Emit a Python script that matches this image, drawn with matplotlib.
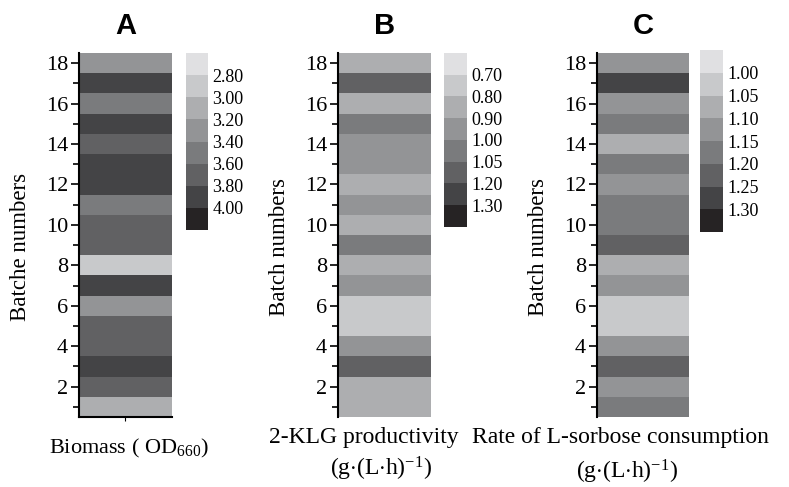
import numpy as np
import matplotlib
matplotlib.use('Agg')
import matplotlib.pyplot as plt
from matplotlib.colors import ListedColormap, BoundaryNorm
from matplotlib.ticker import MultipleLocator

plt.rcParams['font.family'] = ['Liberation Serif', 'DejaVu Serif']
plt.rcParams['mathtext.fontset'] = 'custom'
plt.rcParams['mathtext.rm'] = 'Liberation Serif'
plt.rcParams['mathtext.it'] = 'Liberation Serif:italic'

# batch 1 .. 18
batches = np.arange(1, 19)

# A: biomass (OD660)
biomass = [3.1, 3.7, 3.9, 3.7, 3.7, 3.3, 3.9, 2.9, 3.7,
           3.7, 3.5, 3.9, 3.9, 3.7, 3.9, 3.5, 3.9, 3.3]
bounds_a = [2.6, 2.8, 3.0, 3.2, 3.4, 3.6, 3.8, 4.0, 4.2]

# B: 2-KLG productivity
klg = [0.85, 0.85, 1.1, 0.95, 0.75, 0.75, 0.95, 0.85, 1.02,
       0.85, 0.95, 0.85, 0.95, 0.95, 1.02, 0.85, 1.1, 0.85]
bounds_b = [0.6, 0.7, 0.8, 0.9, 1.0, 1.05, 1.2, 1.3, 1.4]

# C: L-sorbose consumption rate
sorbose = [1.175, 1.125, 1.225, 1.125, 1.025, 1.025, 1.125, 1.075, 1.225,
           1.175, 1.175, 1.125, 1.175, 1.075, 1.175, 1.125, 1.275, 1.125]
bounds_c = [0.95, 1.0, 1.05, 1.1, 1.15, 1.2, 1.25, 1.3, 1.35]

grays = ['#e0e0e2', '#c8c9cb', '#adaeb0', '#939496',
         '#7a7b7d', '#616163', '#444446', '#262324']
cmap = ListedColormap(grays)

fig = plt.figure(figsize=(7.89, 4.87), dpi=100)

panels = [
    ('A', biomass, bounds_a, 'Batche numbers',
     [0.1001, 0.1437, 0.1179, 0.7474], [0.2357, 0.5277, 0.0279, 0.3634]),
    ('B', klg, bounds_b, 'Batch numbers',
     [0.4284, 0.1437, 0.1179, 0.7474], [0.5627, 0.5339, 0.0292, 0.3573]),
    ('C', sorbose, bounds_c, 'Batch numbers',
     [0.7567, 0.1437, 0.1166, 0.7474], [0.8872, 0.5236, 0.0292, 0.3737]),
]

for i, (letter, vals, bounds, ylab, rect, crect) in enumerate(panels):
    ax = fig.add_axes(rect)
    norm = BoundaryNorm(bounds, cmap.N)
    z = np.array(vals).reshape(-1, 1)
    ybins = np.arange(0.5, 19.5, 1)
    mesh = ax.pcolormesh([0, 1], ybins, z, cmap=cmap, norm=norm)
    ax.set_xlim(0, 1)
    ax.set_ylim(0.5, 18.5)
    ax.yaxis.set_major_locator(MultipleLocator(2))
    ax.yaxis.set_minor_locator(MultipleLocator(1))
    ax.set_yticks(range(2, 19, 2))
    ax.tick_params(axis='y', which='major', length=6, width=1.2, labelsize=16, pad=2)
    ax.tick_params(axis='y', which='minor', length=4, width=1.2)
    ax.spines['top'].set_visible(False)
    ax.spines['right'].set_visible(False)
    ax.spines['left'].set_linewidth(1.5)
    if i == 0:
        ax.spines['bottom'].set_linewidth(1.5)
        ax.set_xticks([0.5])
        ax.set_xticklabels([])
        ax.tick_params(axis='x', length=3, width=0.8)
    else:
        ax.spines['bottom'].set_visible(False)
        ax.set_xticks([])
    ax.set_ylabel(ylab, fontsize=16.5)
    ax.yaxis.set_label_coords(-0.52, 0.467)
    ax.set_title(letter, fontsize=21, fontweight='bold',
                 family=['Liberation Sans Narrow', 'Liberation Sans'], pad=14)

    cax = fig.add_axes(crect)
    cb = fig.colorbar(mesh, cax=cax, ticks=bounds[1:-1], format='%.2f')
    cb.outline.set_visible(False)
    cb.ax.minorticks_off()
    cb.ax.invert_yaxis()
    cb.ax.tick_params(which='both', length=0, labelsize=13, pad=3)

fig.text(0.163, 0.080, r'Biomass ( OD$_{\mathrm{660}}$)', ha='center', va='center', fontsize=16)
fig.text(0.461, 0.102, '2-KLG productivity', ha='center', va='center', fontsize=17)
fig.text(0.483, 0.038, r'(g$\cdot$(L$\cdot$h)$^{\mathrm{-1}}$)', ha='center', va='center', fontsize=17)
fig.text(0.786, 0.102, 'Rate of L-sorbose consumption', ha='center', va='center', fontsize=17)
fig.text(0.795, 0.030, r'(g$\cdot$(L$\cdot$h)$^{\mathrm{-1}}$)', ha='center', va='center', fontsize=17)

fig.savefig('out.png', dpi=100)
